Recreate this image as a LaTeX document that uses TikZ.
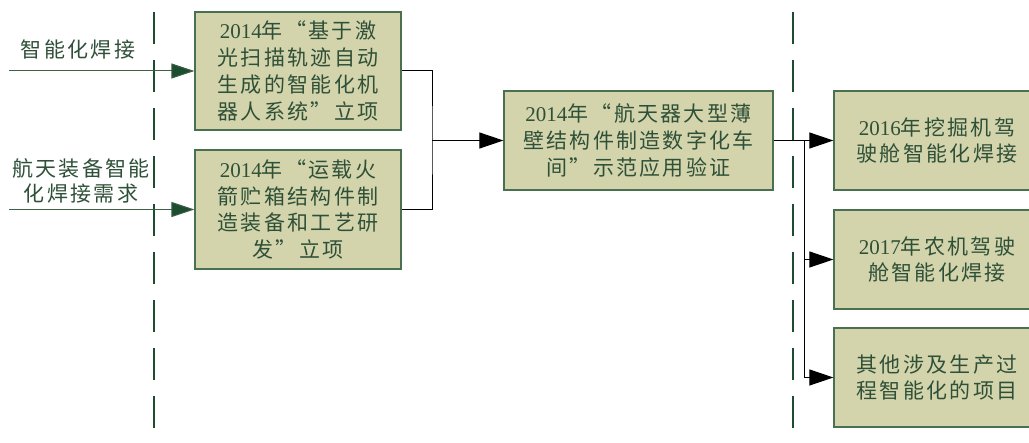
\documentclass[tikz,border=0pt]{standalone}
\usepackage{fontspec}
\setmainfont{Noto Sans CJK SC}[LetterSpace=11]
\newfontfamily\lat{Liberation Serif}
\usetikzlibrary{arrows.meta}
\definecolor{boxfill}{HTML}{D3D4AC}
\definecolor{boxline}{HTML}{4A7052}
\definecolor{txt}{HTML}{2F5038}
\definecolor{divgreen}{HTML}{1B4D2E}
\definecolor{ingreen}{HTML}{3E5E46}
\tikzset{
  box/.style={draw=boxline, fill=boxfill, line width=1.2pt, text=txt, align=center,
    inner sep=0pt, font=\fontsize{21}{26.7}\selectfont},
  lbl/.style={text=txt, align=center, inner sep=0pt, font=\fontsize{21}{25.5}\selectfont},
  divider/.style={draw=divgreen, line width=2.2pt, dash pattern=on 32pt off 16pt},
  garrow/.style={draw=ingreen, line width=1pt, -{Triangle[length=23pt,width=15pt,fill=divgreen]}},
  conn/.style={draw=black, line width=1pt},
  barrow/.style={draw=black, line width=1pt, -{Triangle[length=24pt,width=16pt]}}
}
\begin{document}
\begin{tikzpicture}[x=1pt,y=-1pt]
\useasboundingbox (0,0) rectangle (1029,443);
\clip (0,0) rectangle (1029,443);
% dividers
\coordinate (d1t) at (154,12);
\coordinate (d1b) at (154,430);
\coordinate (d2t) at (793,12);
\coordinate (d2b) at (793,430);
\draw[divider] (d1t) -- (d1b);
\draw[divider] (d2t) -- (d2b);
% left boxes
\node[box, minimum width=206pt, minimum height=118pt] (b1) at (298,71)
  {{\lat 2014}年“基于激\\光扫描轨迹自动\\生成的智能化机\\器人系统”立项};
\node[box, minimum width=206pt, minimum height=119pt] (b2) at (298,209.5)
  {{\lat 2014}年“运载火\\箭贮箱结构件制\\造装备和工艺研\\发”立项};
% middle box
\node[box, minimum width=269pt, minimum height=99pt] (m) at (638.5,140.5)
  {{\lat 2014}年“航天器大型薄\\壁结构件制造数字化车\\间”示范应用验证};
% right boxes
\node[box, minimum width=206pt, minimum height=99pt] (r1) at (937,140.5)
  {{\lat 2016}年挖掘机驾\\驶舱智能化焊接};
\node[box, minimum width=206pt, minimum height=99pt] (r2) at (937,259.5)
  {{\lat 2017}年农机驾驶\\舱智能化焊接};
\node[box, minimum width=206pt, minimum height=99pt] (r3) at (937,377.5)
  {其他涉及生产过\\程智能化的项目};
% left labels and inputs
\node[lbl] (l1) at (78,50) {智能化焊接};
\node[lbl] (l2) at (81,181) {航天装备智能\\化焊接需求};
\coordinate (s1) at (9,71);
\coordinate (s2) at (9,209.5);
\draw[garrow] (s1) -- (b1.west);
\draw[garrow] (s2) -- (b2.west);
% merge into middle
\coordinate (j1) at (432,140.5);
\draw[conn] (b1.east) -| (j1) |- (b2.east);
\draw[barrow] (j1) -- (m.west);
% split to right
\coordinate (j2) at (804,140.5);
\draw[barrow] (m.east) -- (r1.west);
\draw[barrow] (j2) |- (r2.west);
\draw[barrow] (j2) |- (r3.west);
\end{tikzpicture}
\end{document}
